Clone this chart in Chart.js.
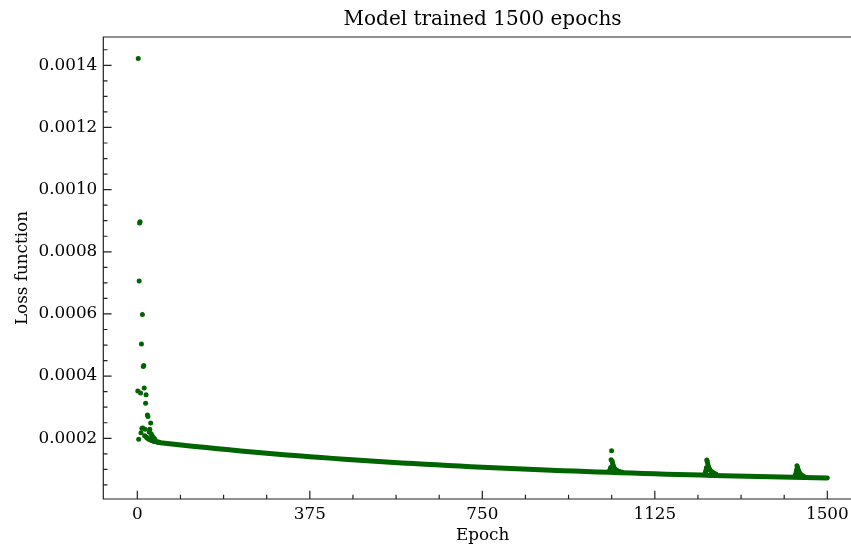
<!DOCTYPE html>
<html><head><meta charset="utf-8">
<script src="https://cdn.jsdelivr.net/npm/chart.js@4.4.1/dist/chart.umd.min.js"></script>
<style>
html,body{margin:0;padding:0;background:#fff;overflow:hidden;width:851px;height:548px}
#wrap{position:absolute;left:0;top:0;width:880px;height:548px}
</style>
</head><body><div id="wrap"><canvas id="c" width="880" height="548"></canvas></div>
<script>
// ---- data ----
const bandEpochs = [45,50,75,100,125,150,175,200,225,250,275,300,325,350,375,400,425,450,475,500,525,550,575,600,625,650,675,700,725,750,775,800,825,850,875,900,925,950,975,1000,1025,1050,1075,1100,1125,1150,1175,1200,1225,1250,1275,1300,1325,1350,1375,1400,1425,1450,1475,1500];
const bandLoss = [1.875e-4,1.860e-4,1.818e-4,1.778e-4,1.739e-4,1.701e-4,1.664e-4,1.629e-4,1.594e-4,1.561e-4,1.528e-4,1.497e-4,1.466e-4,1.437e-4,1.408e-4,1.380e-4,1.354e-4,1.327e-4,1.302e-4,1.278e-4,1.254e-4,1.231e-4,1.208e-4,1.187e-4,1.166e-4,1.145e-4,1.126e-4,1.107e-4,1.088e-4,1.070e-4,1.053e-4,1.036e-4,1.019e-4,1.003e-4,9.88e-5,9.73e-5,9.59e-5,9.45e-5,9.31e-5,9.18e-5,9.05e-5,8.93e-5,8.81e-5,8.69e-5,8.58e-5,8.47e-5,8.36e-5,8.26e-5,8.16e-5,8.06e-5,7.97e-5,7.88e-5,7.79e-5,7.70e-5,7.62e-5,7.54e-5,7.46e-5,7.39e-5,7.32e-5,7.25e-5];

const earlyEpochs = [1,2,3,4,5,6,7,8,9,10,11,12,13,14,15,16,17,18,19,20,21,22,23,24,25,26,27,28,29,30,31,32,33,34,35,36,37,38,39,40,42,44,46,48];
const earlyLoss = [3.52e-4,1.422e-3,1.97e-4,7.06e-4,8.93e-4,8.97e-4,3.46e-4,2.18e-4,5.03e-4,2.32e-4,5.98e-4,2.33e-4,4.31e-4,4.34e-4,3.62e-4,2.08e-4,2.29e-4,3.13e-4,3.40e-4,2.04e-4,2.01e-4,2.75e-4,2.70e-4,1.99e-4,1.97e-4,2.20e-4,2.29e-4,1.95e-4,2.49e-4,2.15e-4,1.93e-4,2.08e-4,1.92e-4,2.04e-4,1.91e-4,2.00e-4,1.90e-4,1.97e-4,1.895e-4,1.89e-4,1.885e-4,1.88e-4,1.875e-4,1.87e-4];

const spikeEpochs = [1027,1028,1029,1030,1031,1032,1033,1034,1035,1036,1037,1038,1040,1042,1045,1049,1054,
                     1234,1235,1236,1237,1238,1239,1240,1241,1242,1243,1244,1246,1249,1253,1258,
                     1430,1431,1432,1433,1434,1435,1436,1437,1438,1439,1441,1444,1448];
const spikeLoss = [9.6e-5,1.00e-4,1.06e-4,1.31e-4,1.60e-4,1.27e-4,1.21e-4,1.15e-4,1.10e-4,1.06e-4,1.03e-4,1.01e-4,9.9e-5,9.7e-5,9.5e-5,9.3e-5,9.1e-5,
                   8.6e-5,9.0e-5,9.6e-5,1.05e-4,1.30e-4,1.25e-4,1.18e-4,1.12e-4,1.07e-4,1.03e-4,1.00e-4,9.6e-5,9.2e-5,8.8e-5,8.5e-5,
                   7.9e-5,8.3e-5,8.9e-5,9.8e-5,1.12e-4,1.07e-4,1.02e-4,9.7e-5,9.3e-5,9.0e-5,8.6e-5,8.2e-5,7.9e-5];

const xMajorTicks = [0,375,750,1125,1500];
const xTickLabels = ['0','375','750','1125','1500'];
const xMinorTicks = [93.75,187.5,281.25,468.75,562.5,656.25,843.75,937.5,1031.25,1218.75,1312.5,1406.25];
const yMajorTicks = [0.0002,0.0004,0.0006,0.0008,0.0010,0.0012,0.0014];
const yTickLabels = ['0.0002','0.0004','0.0006','0.0008','0.0010','0.0012','0.0014'];
const yMinorTicks = [0.00005,0.0001,0.00015,0.00025,0.0003,0.00035,0.00045,0.0005,0.00055,0.00065,0.0007,0.00075,0.00085,0.0009,0.00095,0.00105,0.0011,0.00115,0.00125,0.0013,0.00135,0.00145];

// ---- drawing ----
const green = '#006400';
const serif = 'DejaVu Serif';
const tickFont = {family: serif, size: 16.8, weight: 'normal'};
const pts = (xs, ys) => xs.map((e, i) => ({x: e, y: ys[i]}));

const framePlugin = {
  id: 'frame',
  afterDatasetsDraw(chart) {
    const {ctx, chartArea: a, scales: {x, y}} = chart;
    ctx.save();
    ctx.strokeStyle = '#222';
    ctx.lineWidth = 1.2;
    ctx.beginPath();
    // left, bottom and top spines (the right spine lies beyond the picture's edge)
    ctx.moveTo(a.right, a.top); ctx.lineTo(a.left, a.top); ctx.lineTo(a.left, a.bottom); ctx.lineTo(a.right, a.bottom);
    xMajorTicks.forEach(v => { const p = x.getPixelForValue(v); ctx.moveTo(p, a.bottom); ctx.lineTo(p, a.bottom - 8.3); });
    xMinorTicks.forEach(v => { const p = x.getPixelForValue(v); ctx.moveTo(p, a.bottom); ctx.lineTo(p, a.bottom - 4.2); });
    yMajorTicks.forEach(v => { const p = y.getPixelForValue(v); ctx.moveTo(a.left, p); ctx.lineTo(a.left + 8.3, p); });
    yMinorTicks.forEach(v => { const p = y.getPixelForValue(v); ctx.moveTo(a.left, p); ctx.lineTo(a.left + 4.2, p); });
    ctx.stroke();
    ctx.restore();
  }
};

new Chart(document.getElementById('c'), {
  type: 'scatter',
  data: {
    datasets: [
      {data: pts(bandEpochs, bandLoss), showLine: true, borderColor: green, borderWidth: 5,
       borderCapStyle: 'round', borderJoinStyle: 'round', pointRadius: 0, tension: 0},
      {data: pts(earlyEpochs, earlyLoss), backgroundColor: green, borderWidth: 0, pointRadius: 2.5},
      {data: pts(spikeEpochs, spikeLoss), backgroundColor: green, borderWidth: 0, pointRadius: 2.5}
    ]
  },
  options: {
    responsive: false, animation: false, devicePixelRatio: 1,
    layout: {padding: {left: 0, right: 18.2, top: 0, bottom: 0}},
    plugins: {
      legend: {display: false}, tooltip: {enabled: false},
      title: {display: true, text: 'Model trained 1500 epochs', fullSize: false, color: '#000',
              font: {family: serif, size: 20, weight: 'normal'}, padding: {top: 7.5, bottom: 5.5}}
    },
    scales: {
      x: {
        type: 'linear', min: -73.95, max: 1574.95,
        afterBuildTicks: s => { s.ticks = xMajorTicks.map(v => ({value: v})); },
        afterFit: s => { s.height = 49; },
        grid: {display: false, drawTicks: false}, border: {display: false},
        ticks: {padding: 6, color: '#000', font: tickFont, maxRotation: 0, autoSkip: false,
                callback: v => { const i = xMajorTicks.indexOf(v); return i >= 0 ? xTickLabels[i] : ''; }},
        title: {display: true, text: 'Epoch', color: '#000', font: tickFont, padding: {top: 0, bottom: 2}}
      },
      y: {
        type: 'linear', min: 0.0000047, max: 0.001491,
        afterBuildTicks: s => { s.ticks = yMajorTicks.map(v => ({value: v})); },
        afterFit: s => { s.width = 103.3; },
        grid: {display: false, drawTicks: false}, border: {display: false},
        ticks: {padding: 6, color: '#000', font: tickFont, autoSkip: false,
                callback: v => { const i = yMajorTicks.findIndex(t => Math.abs(t - v) < 1e-9); return i >= 0 ? yTickLabels[i] : ''; }},
        title: {display: true, text: 'Loss function', color: '#000', font: tickFont, padding: {top: 13, bottom: 0}}
      }
    }
  },
  plugins: [framePlugin]
});
</script>
</body></html>
